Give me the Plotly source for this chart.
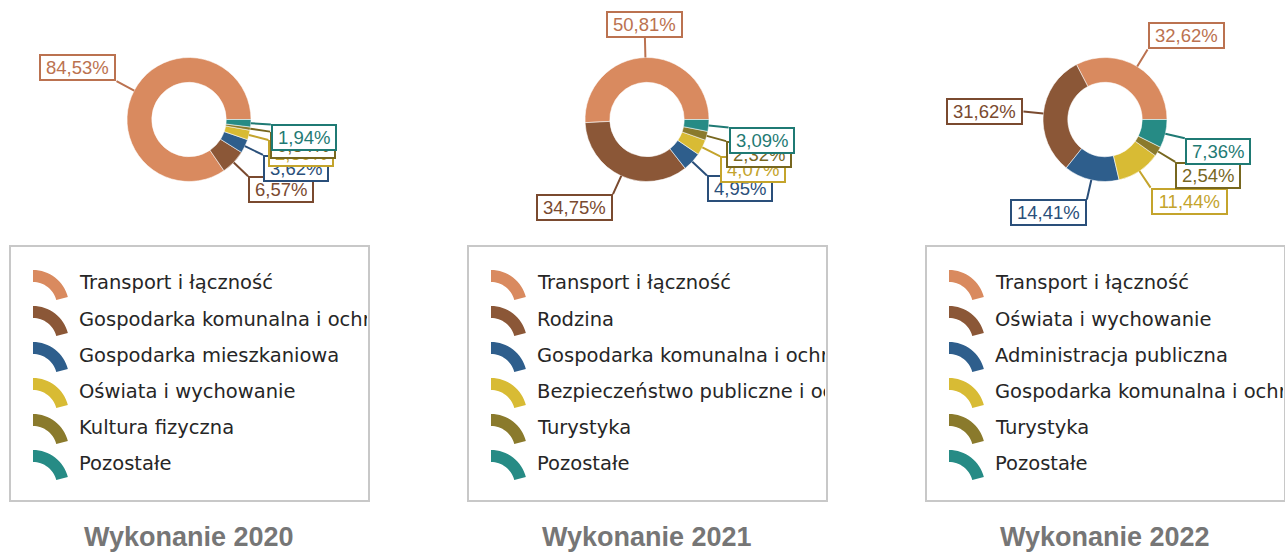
import math
import plotly.graph_objects as go

W, H = 1285, 552

# ---- data -------------------------------------------------------------
titles = ["Wykonanie 2020", "Wykonanie 2021", "Wykonanie 2022"]

categories_2020 = ["Transport i łączność",
                   "Gospodarka komunalna i ochrona środowiska",
                   "Gospodarka mieszkaniowa",
                   "Oświata i wychowanie",
                   "Kultura fizyczna",
                   "Pozostałe"]
shares_2020 = [84.53, 6.57, 3.62, 2.50, 0.84, 1.94]

categories_2021 = ["Transport i łączność",
                   "Rodzina",
                   "Gospodarka komunalna i ochrona środowiska",
                   "Bezpieczeństwo publiczne i ochrona przeciwpożarowa",
                   "Turystyka",
                   "Pozostałe"]
shares_2021 = [50.81, 34.75, 4.95, 4.07, 2.32, 3.09]

categories_2022 = ["Transport i łączność",
                   "Oświata i wychowanie",
                   "Administracja publiczna",
                   "Gospodarka komunalna i ochrona środowiska",
                   "Turystyka",
                   "Pozostałe"]
shares_2022 = [32.62, 31.62, 14.41, 11.44, 2.54, 7.36]

panels = [(categories_2020, shares_2020),
          (categories_2021, shares_2021),
          (categories_2022, shares_2022)]

# ---- styling ----------------------------------------------------------
slice_colors = ["#d98a5f", "#8b5737", "#2e5e8c", "#d8bb34", "#8a7a2c", "#268b85"]
label_colors = ["#bb7250", "#7a4a2f", "#2a4f7a", "#c4a42c", "#77671f", "#1f7a74"]

CX0, CSTEP, CY = 189, 458, 119.5     # donut centres (px)
R = 62                               # outer radius (px)
LEAD = 20                            # leader-line length (px)
LABEL_FONT = 18.5
LEGEND_FONT = 19.5


def fx(x):
    return x / W


def fy(y):
    return 1 - y / H


def label_text(v):
    return f"{v:.2f}".replace(".", ",") + "%"


def label_width(txt):
    w = 0.0
    for ch in txt:
        w += 0.556 if ch.isdigit() else (0.278 if ch == "," else 0.889)
    return w * LABEL_FONT + 8


def arc_icon(x0, yc):
    """Quarter-ring legend marker (paper-coordinate SVG path)."""
    ox, oy = x0, yc + 23
    r_out, r_in = 36, 24
    a0, a1 = math.radians(90), math.radians(14.5)
    n = 16
    pts = []
    for i in range(n + 1):
        a = a0 + (a1 - a0) * i / n
        pts.append((ox + r_out * math.cos(a), oy - r_out * math.sin(a)))
    for i in range(n + 1):
        a = a1 + (a0 - a1) * i / n
        pts.append((ox + r_in * math.cos(a), oy - r_in * math.sin(a)))
    path = "M " + " L ".join(f"{fx(x):.5f},{fy(y):.5f}" for x, y in pts) + " Z"
    return path


fig = go.Figure()
shapes, annotations = [], []

for p, (cats, vals) in enumerate(panels):
    cx = CX0 + CSTEP * p
    total = sum(vals)
    # counter-clockwise pies in plotly place the first slice clockwise of
    # `rotation`; shift so the first slice begins at 3 o'clock instead
    rot = 90 - vals[0] / total * 360
    fig.add_trace(go.Pie(
        labels=cats, values=vals, hole=0.6, sort=False,
        direction="counterclockwise", rotation=rot,
        textinfo="none", showlegend=False,
        hovertemplate="%{label}: %{value:.2f}%<extra></extra>",
        marker=dict(colors=slice_colors,
                    line=dict(color="rgba(255,255,255,0.55)", width=1)),
        domain=dict(x=[fx(cx - R), fx(cx + R)], y=[fy(CY + R), fy(CY - R)]),
    ))

    # value labels with leader lines
    cum = 0.0
    for i, v in enumerate(vals):
        theta = math.radians((cum + v / 2) / total * 360)
        cum += v
        c, s = math.cos(theta), math.sin(theta)
        ax_, ay_ = cx + R * c, CY - R * s
        xanchor = "left" if c > 0.1 else ("right" if c < -0.1 else "center")
        yanchor = "bottom" if s > 0.15 else ("top" if s < -0.02 else "middle")
        txt = label_text(v)
        annotations.append(dict(
            x=fx(ax_), y=fy(ay_), xref="paper", yref="paper",
            ax=LEAD * c, ay=-LEAD * s, axref="pixel", ayref="pixel",
            text=txt, showarrow=True, arrowhead=0, arrowwidth=2,
            arrowcolor=label_colors[i], standoff=0,
            xanchor=xanchor, yanchor=yanchor,
            font=dict(family="Liberation Sans, Arial, sans-serif",
                      size=LABEL_FONT, color=label_colors[i]),
            bgcolor="white", bordercolor=label_colors[i], borderwidth=2,
            borderpad=1, width=label_width(txt),
        ))

    # legend box
    bx0, bx1 = cx - 179, cx + 180
    shapes.append(dict(type="rect", xref="paper", yref="paper",
                       x0=fx(bx0), x1=fx(bx1), y0=fy(501), y1=fy(246),
                       line=dict(color="#c8c8c8", width=2),
                       fillcolor="rgba(0,0,0,0)"))
    for i, name in enumerate(cats):
        yc = 283 + 36 * i
        shapes.append(dict(type="path", xref="paper", yref="paper",
                           path=arc_icon(bx0 + 23, yc),
                           fillcolor=slice_colors[i], line=dict(width=0)))
        annotations.append(dict(
            x=fx(bx0 + 68), y=fy(yc), xref="paper", yref="paper",
            text=name, showarrow=False, xanchor="left", yanchor="middle",
            align="left", width=bx1 - bx0 - 71, borderpad=0,
            font=dict(family="DejaVu Sans, Verdana, sans-serif",
                      size=LEGEND_FONT, color="#262626"),
        ))

    # panel title
    annotations.append(dict(
        x=fx(cx), y=fy(537), xref="paper", yref="paper",
        text=f"<b>{titles[p]}</b>", showarrow=False,
        xanchor="center", yanchor="middle",
        font=dict(family="Liberation Sans, Arial, sans-serif",
                  size=27, color="#767676"),
    ))

fig.update_layout(
    width=W, height=H,
    margin=dict(l=0, r=0, t=0, b=0),
    paper_bgcolor="white", plot_bgcolor="white",
    shapes=shapes, annotations=annotations,
    showlegend=False,
)

fig.write_html("out.html")
